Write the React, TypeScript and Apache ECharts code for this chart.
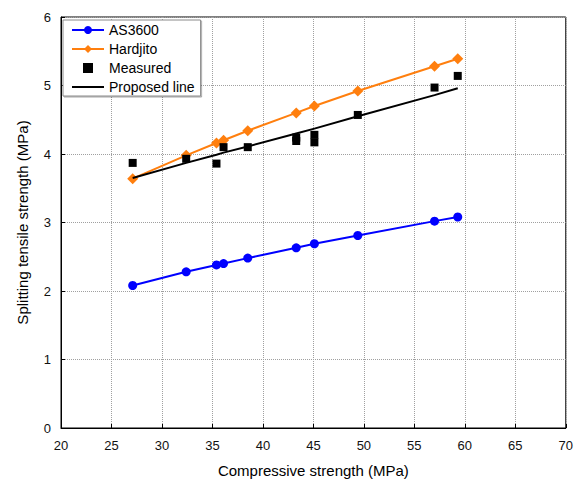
import React, { useEffect, useRef } from "react";
import * as echarts from "echarts";

// Compressive strength of each specimen group (MPa)
const compressive = [27.1, 32.4, 35.4, 36.1, 38.5, 43.3, 45.1, 49.4, 57.0, 59.3];

// Predicted splitting tensile strength (MPa)
const as3600 = [2.08, 2.28, 2.38, 2.40, 2.48, 2.63, 2.69, 2.81, 3.02, 3.08];
const hardjito = [3.64, 3.98, 4.16, 4.20, 4.34, 4.60, 4.70, 4.92, 5.28, 5.39];
const proposed = [3.65, 3.87, 3.99, 4.02, 4.11, 4.30, 4.37, 4.55, 4.86, 4.96];

// Measured splitting tensile strength (x = compressive, y = tensile)
const measuredX = [27.1, 32.4, 35.4, 36.1, 38.5, 43.3, 43.3, 45.1, 45.1, 49.4, 57.0, 59.3];
const measuredY = [3.87, 3.93, 3.86, 4.10, 4.10, 4.24, 4.19, 4.28, 4.17, 4.57, 4.97, 5.14];

const xTicks = { min: 20, max: 70, interval: 5 };
const yTicks = { min: 0, max: 6, interval: 1 };

const pair = (xs: number[], ys: number[]) => xs.map((x, i) => [x, ys[i]]);

export default function App() {
  const ref = useRef<HTMLDivElement>(null);

  useEffect(() => {
    if (!ref.current) return;
    const chart = echarts.init(ref.current, null, { renderer: "svg" });
    const font = "'Liberation Sans', Arial, sans-serif";
    const gridLine = { show: true, lineStyle: { type: "dotted" as const, color: "#a0a0a0", width: 1 } };

    chart.setOption({
      animation: false,
      backgroundColor: "#ffffff",
      textStyle: { fontFamily: font },
      grid: {
        left: 61,
        right: 7,
        top: 17,
        bottom: 57,
        show: true,
        borderColor: "#000",
        borderWidth: 1,
        backgroundColor: "transparent",
      },
      legend: {
        orient: "vertical",
        left: 63,
        top: 20,
        backgroundColor: "#fff",
        borderColor: "#8a8a8a",
        borderWidth: 1,
        shadowColor: "rgba(0,0,0,0.35)",
        shadowBlur: 1,
        shadowOffsetX: 1,
        shadowOffsetY: 1,
        padding: [3, 6, 2, 8],
        itemGap: 5,
        itemWidth: 32,
        itemHeight: 10,
        textStyle: { fontFamily: font, fontSize: 14, color: "#000" },
        data: [
          "AS3600",
          "Hardjito",
          { name: "Measured", icon: "path://M0,0h8v8h-8z" },
          { name: "Proposed line", icon: "path://M0,4h32v2h-32z" },
        ],
      },
      xAxis: {
        type: "value",
        min: xTicks.min,
        max: xTicks.max,
        interval: xTicks.interval,
        name: "Compressive strength (MPa)",
        nameLocation: "middle",
        nameGap: 35,
        nameTextStyle: { fontFamily: font, fontSize: 15, color: "#000" },
        axisLine: { show: true, lineStyle: { color: "#000", width: 1 } },
        axisTick: { show: true, inside: true, length: 4, lineStyle: { color: "#000" } },
        axisLabel: { fontFamily: font, fontSize: 13, color: "#111", margin: 11 },
        splitLine: gridLine,
      },
      yAxis: {
        type: "value",
        min: yTicks.min,
        max: yTicks.max,
        interval: yTicks.interval,
        name: "Splitting tensile strength (MPa)",
        nameLocation: "middle",
        nameGap: 31,
        nameTextStyle: { fontFamily: font, fontSize: 15, color: "#000" },
        axisLine: { show: true, lineStyle: { color: "#000", width: 1 } },
        axisTick: { show: true, inside: true, length: 4, lineStyle: { color: "#000" } },
        axisLabel: { fontFamily: font, fontSize: 13, color: "#111", margin: 10 },
        splitLine: gridLine,
      },
      series: [
        {
          name: "AS3600",
          type: "line",
          data: pair(compressive, as3600),
          symbol: "circle",
          symbolSize: 9,
          lineStyle: { color: "#0000ff", width: 2 },
          itemStyle: { color: "#0000ff" },
          z: 3,
        },
        {
          name: "Hardjito",
          type: "line",
          data: pair(compressive, hardjito),
          symbol: "diamond",
          symbolSize: 11,
          lineStyle: { color: "#ff7f0e", width: 2 },
          itemStyle: { color: "#ff7f0e" },
          z: 3,
        },
        {
          name: "Measured",
          type: "scatter",
          data: pair(measuredX, measuredY),
          symbol: "rect",
          symbolSize: 8,
          itemStyle: { color: "#000", opacity: 1 },
          z: 5,
        },
        {
          name: "Proposed line",
          type: "line",
          data: pair(compressive, proposed),
          symbol: "none",
          lineStyle: { color: "#000", width: 2 },
          itemStyle: { color: "#000" },
          z: 4,
        },
      ],
    });

    return () => chart.dispose();
  }, []);

  return <div ref={ref} style={{ width: 576, height: 485, position: "absolute", left: 0, top: 0 }} />;
}
